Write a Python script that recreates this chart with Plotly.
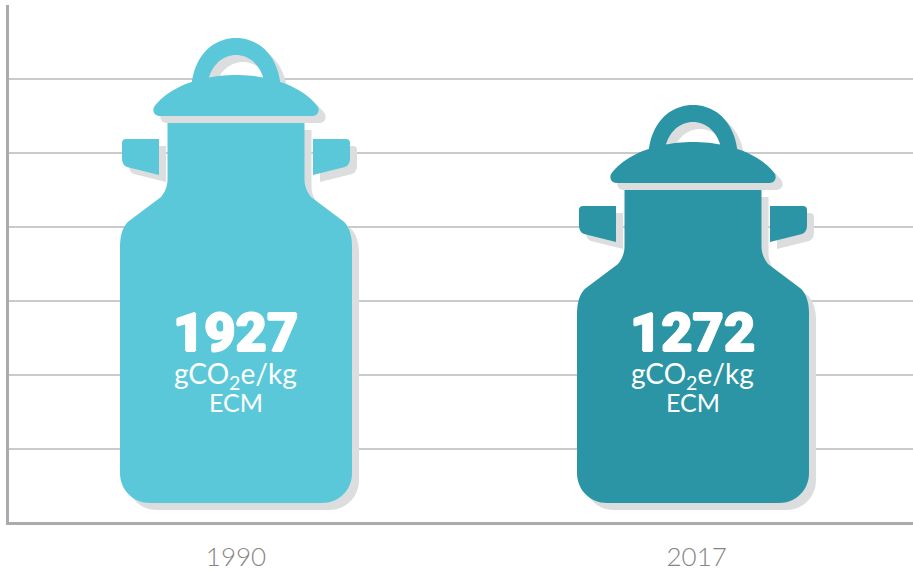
import plotly.graph_objects as go

# ---- data ----
categories = ["1990", "2017"]
values = [1927, 1272]
value_labels = ["1927", "1272"]
unit_line = "gCO<sub>2</sub>e/kg"
basis_line = "ECM"

# ---- style ----
COLORS = ["#5BC8DA", "#2B95A5"]
SHADOW = "#DCDDDF"
GRID = "#C9CACB"
AXIS = "#A9ABAE"
LABEL = "#858585"
W, H = 913, 571
PLOT_L, PLOT_T, PLOT_B = 9, 5, 522   # plot-area edges in page pixels

# scale: the mark tops set the value axis; one category step is 457 px
PX_PER_CAT = 457.0
CENTER0 = 236.0
UNITS_PER_PX = (values[0] - values[1]) / 67.0
TOP0 = 38.0
def y_at(px):
    return values[0] - (px - TOP0) * UNITS_PER_PX
SHADOW_OFFSET = 7


def bez(p0, p1, p2, p3, n=24):
    out = []
    for k in range(n + 1):
        t = k / n
        a, b, c, d = (1 - t) ** 3, 3 * t * (1 - t) ** 2, 3 * t * t * (1 - t), t ** 3
        out.append((a * p0[0] + b * p1[0] + c * p2[0] + d * p3[0],
                    a * p0[1] + b * p1[1] + c * p2[1] + d * p3[1]))
    return out


# Icon outline: half-width offsets from the can's centre; upper part measured
# downward from the top of the can, lower corners measured upward from the base.
def half_body_top():
    pts = [(-68.5, 85)]                     # neck top
    pts += [(-68.5, 141)]
    pts += bez((-68.5, 141), (-68.5, 150), (-72, 155), (-75, 159), 10)
    pts += [(-107, 183)]
    pts += bez((-107, 183), (-113, 188), (-116, 197), (-116, 209), 12)
    return pts

def lid():
    left = bez((-76.5, 78), (-81, 78), (-84, 74), (-82, 69), 8)
    left += bez((-82, 69), (-66, 47), (-31, 37), (0, 37), 24)
    right = [(-x, y) for x, y in reversed(left)]
    return left + right[1:]

def handle():
    outer = [(-44, 46)] + bez((-44, 43), (-40, 16), (-22, 0), (0, 0), 20)
    inner = bez((0, 17), (-11, 17), (-22, 24), (-27, 39), 14)
    right_outer = [(-x, y) for x, y in reversed(outer)]
    right_inner = [(-x, y) for x, y in reversed(inner)]
    return outer + right_outer[1:] + [(27, 44)] + right_inner + inner[1:] + [(-27, 44)]

def ear(sign):
    pts = [(-77, 101), (-110, 101)]
    pts += bez((-110, 101), (-113, 101), (-114, 103), (-114, 105), 5)
    pts += [(-114, 120)]
    pts += bez((-114, 120), (-114, 125), (-112, 128), (-109, 129), 6)
    pts += [(-77, 137)]
    return [(sign * x, y) for x, y in pts]

def body_xy(top_px, base_px=503.0):
    left = [(x, top_px + y) for x, y in half_body_top()]
    corner = bez((-116, base_px - 30), (-116, base_px - 13), (-103, base_px), (-86, base_px), 16)
    right = [(-x, y) for x, y in reversed(corner)]
    return left + corner + right + [(-x, y) for x, y in reversed(left)]

def can_paths(top_px):
    polys = [body_xy(top_px)]
    for part in (lid(), handle(), ear(1), ear(-1)):
        polys.append([(x, top_px + y) for x, y in part])
    return polys

def can_traces(i, value, color, offset=0):
    top_px = TOP0 + (values[0] - value) / UNITS_PER_PX
    traces = []
    for poly in can_paths(top_px):
        traces.append(go.Scatter(
            x=[i + (x + offset) / PX_PER_CAT for x, _ in poly],
            y=[y_at(y + offset) for _, y in poly],
            mode="lines", fill="toself", fillcolor=color,
            line=dict(width=0, color=color, simplify=False),
            hoverinfo="skip", showlegend=False))
    return traces


fig = go.Figure()
for i, v in enumerate(values):
    fig.add_traces(can_traces(i, v, SHADOW, SHADOW_OFFSET))
for i, v in enumerate(values):
    fig.add_traces(can_traces(i, v, COLORS[i]))

HEAVY = "1px 0 0 #fff, -1px 0 0 #fff, 0 1.2px 0 #fff, 0 -1.2px 0 #fff"
annotations = []
for i, lab in enumerate(value_labels):
    for text, px, font in (
        (lab, 332, dict(family="Roboto", size=54, weight=900, shadow=HEAVY)),
        (unit_line, 375, dict(family="Lato", size=28, weight=400)),
        (basis_line, 402, dict(family="Lato", size=25, weight=400)),
    ):
        annotations.append(dict(x=i - 0.001, y=y_at(px), text=text, showarrow=False,
                                xanchor="center", yanchor="middle",
                                font=dict(color="white", **font)))

fig.update_layout(
    width=W, height=H,
    margin=dict(l=PLOT_L, r=0, t=PLOT_T, b=H - PLOT_B, pad=0),
    paper_bgcolor="white", plot_bgcolor="white",
    showlegend=False, annotations=annotations,
    xaxis=dict(
        automargin=False,
        range=[(PLOT_L - CENTER0) / PX_PER_CAT, (W - CENTER0) / PX_PER_CAT],
        tickmode="array", tickvals=[0, 1.008], ticktext=categories,
        showgrid=False, zeroline=False, showline=True, linecolor=AXIS, linewidth=3,
        ticks="", ticklabelstandoff=10,
        tickfont=dict(family="Lato", size=26, weight=300, color=LABEL),
    ),
    yaxis=dict(
        automargin=False,
        range=[y_at(PLOT_B), y_at(PLOT_T)],
        tick0=y_at(PLOT_T), dtick=74 * UNITS_PER_PX, tickmode="linear",
        showticklabels=False, ticks="", zeroline=False,
        showgrid=True, gridcolor=GRID, gridwidth=2,
        showline=True, linecolor=AXIS, linewidth=3,
    ),
)

fig.write_html("out.html", config={"displayModeBar": False},
               post_script="document.body.style.margin='0';")
